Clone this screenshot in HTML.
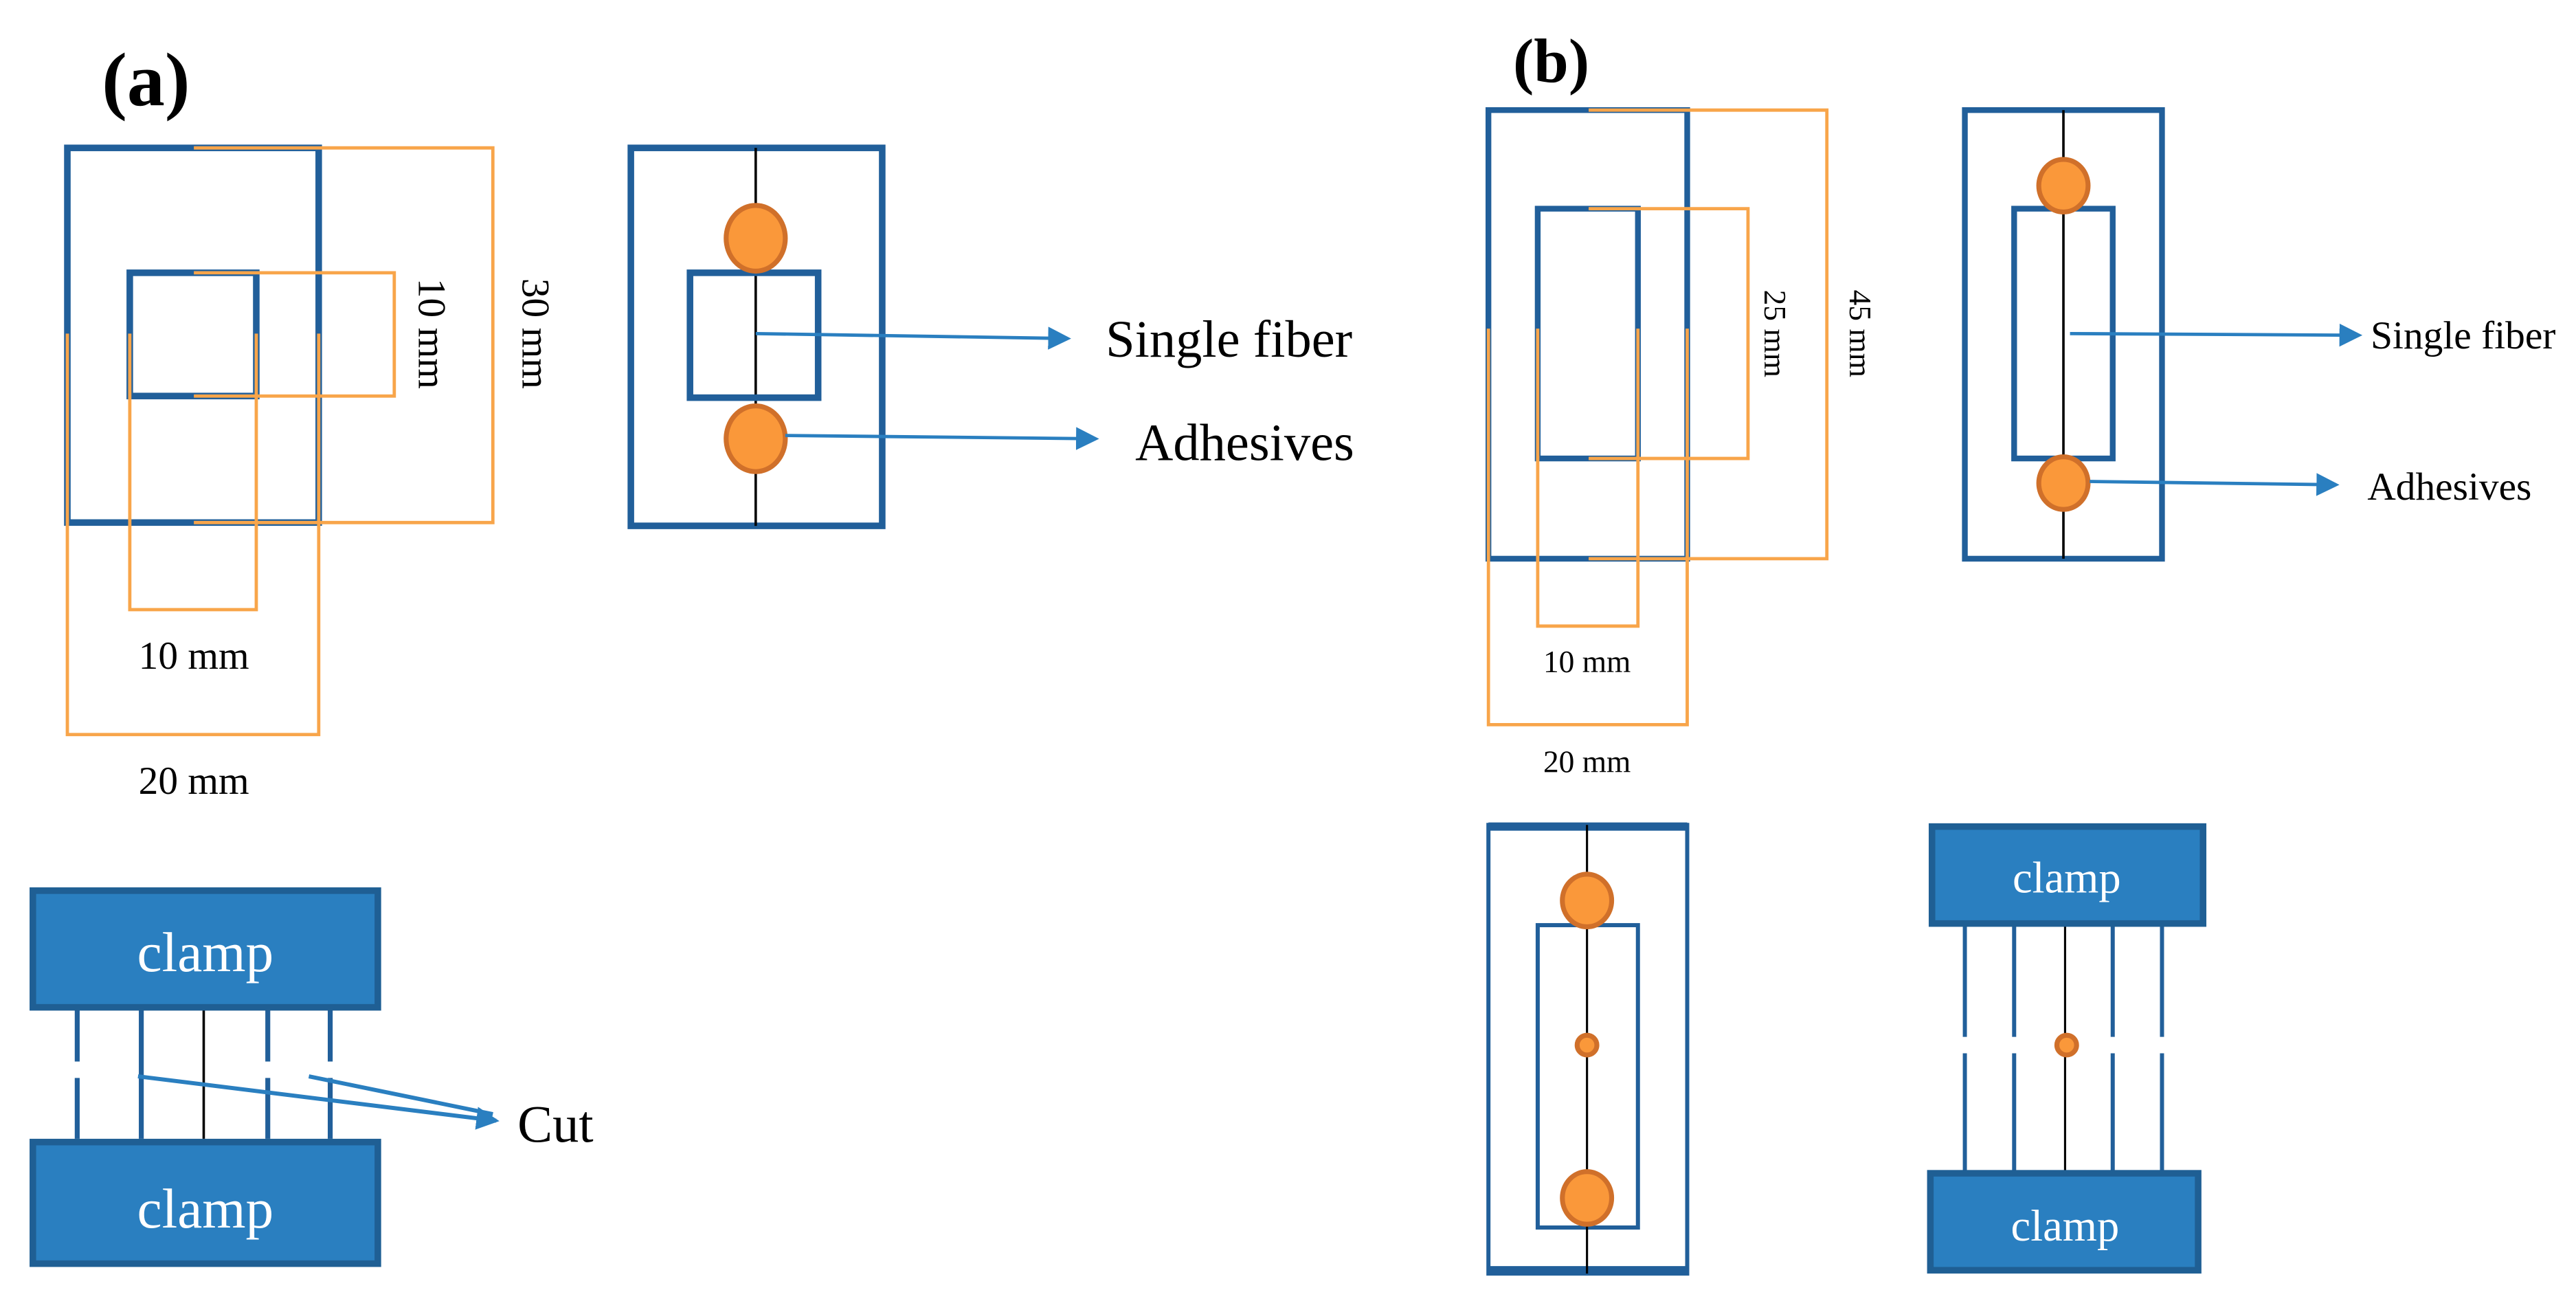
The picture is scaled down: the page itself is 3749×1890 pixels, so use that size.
<!DOCTYPE html>
<html><head><meta charset="utf-8"><style>html,body{margin:0;padding:0;background:#fff}svg{display:block}</style></head><body>
<svg width="3749" height="1890" viewBox="0 0 1568 790.5" preserveAspectRatio="none" xmlns="http://www.w3.org/2000/svg" font-family="Liberation Serif, serif">
<g fill="none">
<!-- (a) dims -->
<rect x="41" y="90" width="153" height="228" stroke="#215F9A" stroke-width="4"/>
<path d="M118,90 H300 V318 H118" stroke="#F8A54A" stroke-width="2"/>
<path d="M41,203 V447 H194 V203" stroke="#F8A54A" stroke-width="2"/>
<rect x="79" y="166" width="77" height="75" stroke="#215F9A" stroke-width="4"/>
<path d="M118,166 H240 V241 H118" stroke="#F8A54A" stroke-width="2"/>
<path d="M79,203 V371 H156 V203" stroke="#F8A54A" stroke-width="2"/>
<!-- (a) specimen -->
<rect x="384" y="90" width="153" height="230" stroke="#215F9A" stroke-width="4"/>
<line x1="460" y1="90" x2="460" y2="320" stroke="#000" stroke-width="1.5"/>
<rect x="420" y="166" width="78" height="76" stroke="#215F9A" stroke-width="4"/>
<!-- (b) dims -->
<rect x="906" y="67" width="121" height="273" stroke="#215F9A" stroke-width="3.5"/>
<path d="M967,67 H1112 V340 H967" stroke="#F8A54A" stroke-width="2"/>
<path d="M906,200 V441 H1027 V200" stroke="#F8A54A" stroke-width="2"/>
<rect x="936" y="127" width="61" height="152" stroke="#215F9A" stroke-width="3.5"/>
<path d="M967,127 H1064 V279 H967" stroke="#F8A54A" stroke-width="2"/>
<path d="M936,200 V381 H997 V200" stroke="#F8A54A" stroke-width="2"/>
<!-- (b) specimen -->
<rect x="1196" y="67" width="120" height="273" stroke="#215F9A" stroke-width="3.5"/>
<line x1="1256" y1="67" x2="1256" y2="340" stroke="#000" stroke-width="1.5"/>
<rect x="1226" y="127" width="60" height="152" stroke="#215F9A" stroke-width="3.5"/>
<!-- (b) bottom left -->
<rect x="906" y="502" width="121" height="273" stroke="#215F9A" stroke-width="2.5"/>
<line x1="906" y1="503" x2="1027" y2="503" stroke="#215F9A" stroke-width="5"/>
<line x1="906" y1="773" x2="1027" y2="773" stroke="#215F9A" stroke-width="5"/>
<rect x="936" y="563" width="61" height="184" stroke="#215F9A" stroke-width="2.5"/>
<line x1="966" y1="502" x2="966" y2="775" stroke="#000" stroke-width="1.3"/>
<!-- (a) bottom lines -->
<g stroke="#215F9A" stroke-width="3">
<line x1="47" y1="613" x2="47" y2="646"/><line x1="47" y1="656" x2="47" y2="693"/>
<line x1="86" y1="613" x2="86" y2="693"/>
<line x1="163" y1="613" x2="163" y2="646"/><line x1="163" y1="656" x2="163" y2="693"/>
<line x1="201" y1="613" x2="201" y2="646"/><line x1="201" y1="656" x2="201" y2="693"/>
</g>
<line x1="124" y1="613" x2="124" y2="693" stroke="#000" stroke-width="1.5"/>
<!-- (b) bottom right lines -->
<g stroke="#215F9A" stroke-width="2.5">
<line x1="1196" y1="563" x2="1196" y2="631"/><line x1="1196" y1="641" x2="1196" y2="713"/>
<line x1="1226" y1="563" x2="1226" y2="631"/><line x1="1226" y1="641" x2="1226" y2="713"/>
<line x1="1286" y1="563" x2="1286" y2="631"/><line x1="1286" y1="641" x2="1286" y2="713"/>
<line x1="1316" y1="563" x2="1316" y2="631"/><line x1="1316" y1="641" x2="1316" y2="713"/>
</g>
<line x1="1257" y1="563" x2="1257" y2="713" stroke="#000" stroke-width="1.3"/>
</g>
<!-- circles -->
<g fill="#FA983A" stroke="#D0702A" stroke-width="3">
<ellipse cx="460" cy="145" rx="18" ry="20"/>
<ellipse cx="460" cy="267" rx="18" ry="20"/>
<ellipse cx="1256" cy="113" rx="15" ry="16"/>
<ellipse cx="1256" cy="294" rx="15" ry="16"/>
<ellipse cx="966" cy="548" rx="15" ry="16"/>
<ellipse cx="966" cy="636" rx="6" ry="6"/>
<ellipse cx="966" cy="729" rx="15" ry="16"/>
<ellipse cx="1258" cy="636" rx="6" ry="6"/>
</g>
<!-- clamps -->
<g fill="#2A7FC0" stroke="#1F5F94" stroke-width="4">
<rect x="20" y="542" width="210" height="71"/>
<rect x="20" y="695" width="210" height="74"/>
<rect x="1176" y="503" width="165" height="59"/>
<rect x="1175" y="714" width="163" height="59"/>
</g>
<g fill="#fff" font-size="34" text-anchor="middle">
<text x="125" y="591">clamp</text>
<text x="125" y="747">clamp</text>
<text x="1258" y="543" font-size="27">clamp</text>
<text x="1257" y="755" font-size="27">clamp</text>
</g>
<!-- arrows -->
<defs>
<marker id="ah2" markerWidth="14" markerHeight="14" refX="12" refY="7" orient="auto" markerUnits="userSpaceOnUse"><path d="M0,0 L14,7 L0,14 Z" fill="#2A7FC0"/></marker></defs>
<g stroke="#2A7FC0" stroke-width="2" fill="none">
<line x1="460" y1="203" x2="650" y2="206" marker-end="url(#ah2)"/>
<line x1="478" y1="265" x2="667" y2="267" marker-end="url(#ah2)"/>
<line x1="1260" y1="203" x2="1436" y2="204" marker-end="url(#ah2)"/>
<line x1="1272" y1="293" x2="1422" y2="295" marker-end="url(#ah2)"/>
<line x1="84" y1="655" x2="302" y2="682" stroke-width="2.5" marker-end="url(#ah2)"/>
<line x1="188" y1="655" x2="300" y2="678" stroke-width="2.5"/>
</g>
<!-- text -->
<g fill="#000">
<text x="62" y="64" font-size="46" font-weight="bold">(a)</text>
<text x="921" y="50" font-size="38" font-weight="bold">(b)</text>
<text x="118" y="407" font-size="24" text-anchor="middle">10 mm</text>
<text x="118" y="483" font-size="24" text-anchor="middle">20 mm</text>
<text x="966" y="409" font-size="19" text-anchor="middle">10 mm</text>
<text x="966" y="470" font-size="19" text-anchor="middle">20 mm</text>
<text transform="translate(255,203) rotate(90)" font-size="24" text-anchor="middle">10 mm</text>
<text transform="translate(318,203) rotate(90)" font-size="24" text-anchor="middle">30 mm</text>
<text transform="translate(1074,203) rotate(90)" font-size="19" text-anchor="middle">25 mm</text>
<text transform="translate(1126,203) rotate(90)" font-size="19" text-anchor="middle">45 mm</text>
<text x="673" y="217" font-size="32">Single fiber</text>
<text x="691" y="280" font-size="32">Adhesives</text>
<text x="1443" y="212" font-size="24">Single fiber</text>
<text x="1441" y="304" font-size="24">Adhesives</text>
<text x="315" y="695" font-size="32">Cut</text>
</g>
</svg>
</body></html>
